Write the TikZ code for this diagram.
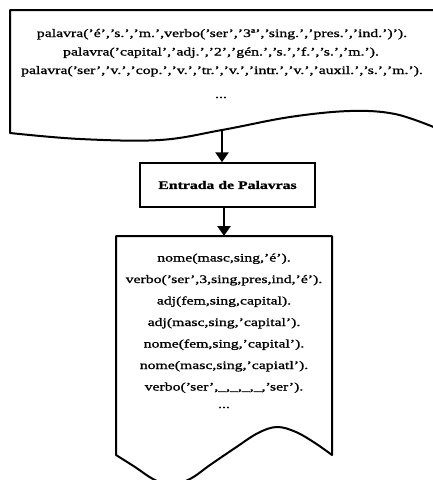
\documentclass[tikz,border=0pt]{standalone}
\usepackage{fontspec}
\setmainfont{Liberation Serif}[FakeStretch=1.37, FakeBold=1.2]
\usetikzlibrary{arrows.meta}
\begin{document}
\begin{tikzpicture}[x=1pt,y=-1pt,
  docline/.style={line width=2pt, line join=round},
  txt/.style={anchor=base, inner sep=0pt, font=\fontsize{11.5}{14}\selectfont},
  flowarrow/.style={line width=2.6pt, -{Triangle[length=10pt,width=13pt]}},
  stepbox/.style={draw, line width=1.5pt, minimum width=175pt, minimum height=44pt,
    inner sep=0pt, font=\bfseries\fontsize{11.5}{14}\selectfont}]
\useasboundingbox (0,0) rectangle (432,480);

% dictionary file (document shape, right edge runs past the page)
\draw[docline] (436,127) -- (436,10) -- (10,10) --
  plot[smooth, tension=0.6] coordinates {(10,133) (80,139) (160,140) (222,130)
    (290,117) (350,111) (395,114) (436,128)};
\coordinate (topdoc) at (222,130);

\node[txt] (l1) at (222,37) {palavra('é','s.','m.',verbo('ser','3ª','sing.','pres.','ind.')').};
\node[txt] (l2) at (221,55.5) {palavra('capital','adj.','2','gén.','s.','f.','s.','m.').};
\node[txt] (l3) at (222,74) {palavra('ser','v.','cop.','v.','tr.','v.','intr.','v.','auxil.','s.','m.').};
\node[txt] (l4) at (221,98) {...};

% processing step
\node[stepbox] (entrada) at (227.5,185) {Entrada de Palavras};

% resulting facts (document shape)
\draw[docline] plot[smooth, tension=0.6] coordinates {(116,455) (135,467) (153,479)
    (170,485) (190,479) (210,465) (235,448) (258,433) (277,427) (296,432)
    (315,443) (332,455)} -- (332,236) -- (116,236) -- cycle;
\coordinate (listdoc) at (224,236);

\node[txt] (m1) at (224,261.5) {nome(masc,sing,'é').};
\node[txt] (m2) at (224,283) {verbo('ser',3,sing,pres,ind,'é').};
\node[txt] (m3) at (224,304.5) {adj(fem,sing,capital).};
\node[txt] (m4) at (224,326) {adj(masc,sing,'capital').};
\node[txt] (m5) at (224,347.5) {nome(fem,sing,'capital').};
\node[txt] (m6) at (224,369) {nome(masc,sing,'capiatl').};
\node[txt] (m7) at (224,390.5) {verbo('ser',\_,\_,\_,\_,'ser').};
\node[txt] (m8) at (224,408) {...};

% connectors
\draw[flowarrow] (topdoc) -- (topdoc |- entrada.north);
\draw[flowarrow] (entrada.south -| listdoc) -- (listdoc);
\end{tikzpicture}
\end{document}
